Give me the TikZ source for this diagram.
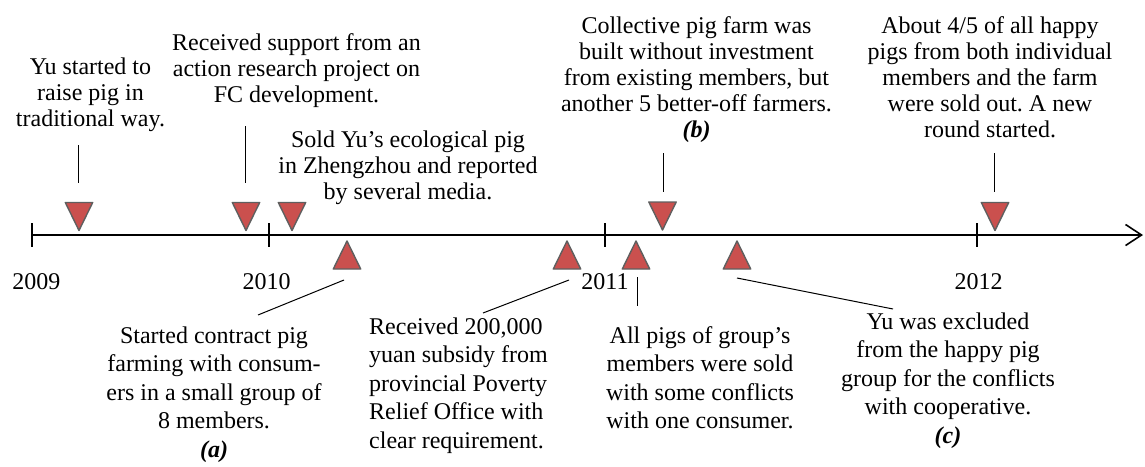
\documentclass[tikz,border=0pt]{standalone}
\usepackage{fontspec}
\setmainfont{Liberation Serif}
\usetikzlibrary{arrows.meta}
\frenchspacing

\definecolor{pigred}{RGB}{202,80,78}
\definecolor{pigedge}{RGB}{95,95,95}

% multi-line blocks whose reference point is the baseline of the first line
\newcommand{\noteLines}[1]{\begin{tabular}[t]{@{}c@{}}#1\end{tabular}}
\newcommand{\noteLinesL}[1]{\begin{tabular}[t]{@{}l@{}}#1\end{tabular}}
\newcommand{\tag}[1]{\textbf{\textit{#1}}}

\tikzset{
  topnote/.style={inner sep=0pt, anchor=base, font=\fontsize{24}{26}\selectfont},
  botnote/.style={inner sep=0pt, anchor=base, font=\fontsize{24}{28.5}\selectfont},
  yearlab/.style={inner sep=0pt, anchor=base, font=\fontsize{24}{26}\selectfont},
  leader/.style={line width=1pt},
  axisline/.style={line width=1.6pt, -{Straight Barb[length=16pt,width=21pt]}},
  yeartick/.style={line width=1.6pt},
  marker/.style={fill=pigred, draw=pigedge, line width=1.4pt, line join=round},
  pics/tridown/.style={code={\path[marker] (-13.7,-14) -- (13.7,-14) -- (0,14) -- cycle;}},
  pics/triup/.style={code={\path[marker] (-13.7,14) -- (13.7,14) -- (0,-14) -- cycle;}},
}

\begin{document}
\begin{tikzpicture}[x=1pt,y=-1pt]
\useasboundingbox (0,0) rectangle (1145,466);

% time axis
\coordinate (ax0) at (32,235);
\coordinate (ax1) at (1143,235);
\draw[axisline] (ax0) -- (ax1);
\foreach \x in {32,269,605,977}
  \draw[yeartick] (\x,223) -- (\x,247);

% years
\node[yearlab] (y2009) at (36.5,289) {2009};
\node[yearlab] (y2010) at (266.5,289) {2010};
\node[yearlab] (y2011) at (605,289) {2011};
\node[yearlab] (y2012) at (978.5,289) {2012};

% events above the axis
\pic (m1) at (79,216.5) {tridown};
\pic (m2) at (246,216.5) {tridown};
\pic (m3) at (292,216.5) {tridown};
\pic (m4) at (662.5,216) {tridown};
\pic (m5) at (995,216.5) {tridown};

% events below the axis
\pic (n1) at (347,255) {triup};
\pic (n2) at (567,255) {triup};
\pic (n3) at (636,255) {triup};
\pic (n4) at (737,255) {triup};

% texts above
\node[topnote] (t1) at (90.5,74) {\noteLines{Yu started to\\raise pig in\\traditional way.}};
\node[topnote] (t2) at (296.5,50) {\noteLines{Received support from an\\action research project on\\FC development.}};
\node[topnote] (t3) at (408,147) {\noteLines{Sold Yu’s ecological pig\\in Zhengzhou and reported\\by several media.}};
\node[topnote] (t4) at (696.5,33) {\noteLines{Collective pig farm was\\built without investment\\from existing members, but\\another 5 better-off farmers.\\\tag{(b)}}};
\node[topnote] (t5) at (990,33) {\noteLines{About 4/5 of all happy\\pigs from both individual\\members and the farm\\were sold out. A new\\round started.}};

% texts below
\node[botnote] (b1) at (214,343) {\noteLines{Started contract pig\\farming with consum-\\ers in a small group of\\8 members.\\\tag{(a)}}};
\node[botnote, anchor=base west] (b2) at (369,334) {\noteLinesL{Received 200,000\\yuan subsidy from\\provincial Poverty\\Relief Office with\\clear requirement.}};
\node[botnote] (b3) at (700,343) {\noteLines{All pigs of group’s\\members were sold\\with some conflicts\\with one consumer.}};
\node[botnote] (b4) at (948,329) {\noteLines{Yu was excluded\\from the happy pig\\group for the conflicts\\with cooperative.\\\tag{(c)}}};

% leader lines, upper side
\coordinate (p1a) at (78,145);  \coordinate (p1b) at (78,183);
\coordinate (p2a) at (245,126); \coordinate (p2b) at (245,183);
\coordinate (p4a) at (663,153); \coordinate (p4b) at (663,192);
\coordinate (p5a) at (994,153); \coordinate (p5b) at (994,192);
\draw[leader] (p1a) -- (p1b);
\draw[leader] (p2a) -- (p2b);
\draw[leader] (p4a) -- (p4b);
\draw[leader] (p5a) -- (p5b);

% leader lines, lower side
\coordinate (q1a) at (344,280); \coordinate (q1b) at (258,315);
\coordinate (q2a) at (569,280); \coordinate (q2b) at (483,313);
\coordinate (q3a) at (637,277); \coordinate (q3b) at (637,306);
\coordinate (q4a) at (737,278); \coordinate (q4b) at (893,309);
\draw[leader] (q1a) -- (q1b);
\draw[leader] (q2a) -- (q2b);
\draw[leader] (q3a) -- (q3b);
\draw[leader] (q4a) -- (q4b);
\end{tikzpicture}
\end{document}
